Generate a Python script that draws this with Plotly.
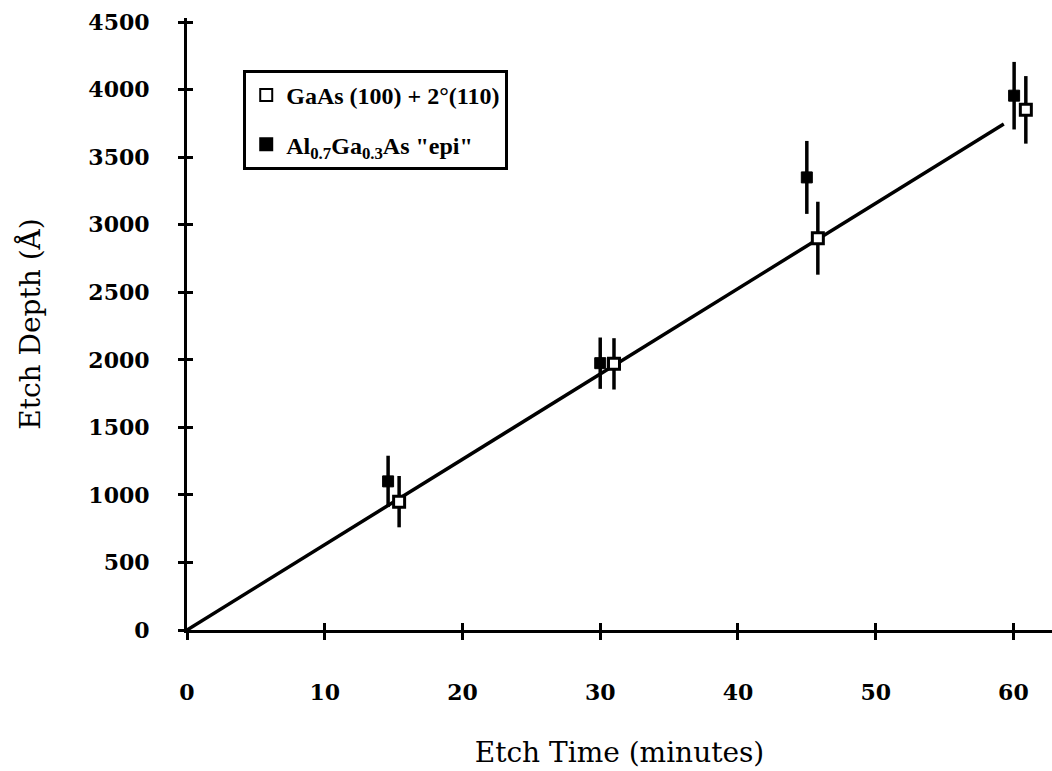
import plotly.graph_objects as go

# Data
gaas_time = [15.4, 31.0, 45.8, 60.9]
gaas_depth = [950, 1970, 2900, 3850]
gaas_err = [190, 190, 270, 250]

algaas_time = [14.6, 30.0, 45.0, 60.05]
algaas_depth = [1100, 1975, 3350, 3955]
algaas_err = [190, 190, 270, 250]

fit_time = [0, 59.3]
fit_depth = [0, 3746]

x_ticks = [0, 10, 20, 30, 40, 50, 60]
y_ticks = [0, 500, 1000, 1500, 2000, 2500, 3000, 3500, 4000, 4500]

FONT = "DejaVu Serif"
TITLE_FONT = "DejaVu Serif"
LEGEND_FONT = "Liberation Serif"

fig = go.Figure()

fig.add_trace(go.Scatter(
    x=fit_time, y=fit_depth, mode="lines",
    line=dict(color="black", width=3.5), showlegend=False, hoverinfo="skip"))

fig.add_trace(go.Scatter(
    x=gaas_time, y=gaas_depth, mode="markers",
    name="GaAs (100) + 2°(110)", legendgroup="a",
    marker=dict(symbol="square", size=11, color="white",
                line=dict(color="black", width=3)),
    error_y=dict(type="data", array=gaas_err, visible=True,
                 color="black", thickness=3.5, width=0)))

fig.add_trace(go.Scatter(
    x=algaas_time, y=algaas_depth, mode="markers",
    name='Al<sub>0.7</sub>Ga<sub>0.3</sub>As "epi"', legendgroup="b",
    marker=dict(symbol="square", size=11, color="black",
                line=dict(color="black", width=1)),
    error_y=dict(type="data", array=algaas_err, visible=True,
                 color="black", thickness=3.5, width=0)))

# invisible trace to activate the overlay axes (inside ticks)
fig.add_trace(go.Scatter(x=[0], y=[0], xaxis="x2", yaxis="y2", mode="markers",
                         marker=dict(opacity=0), showlegend=False, hoverinfo="skip"))

x_range = [0, 62.8]
y_range = [0, 4530]

fig.update_layout(
    width=1052, height=771,
    margin=dict(l=187, r=0, t=18, b=141),
    paper_bgcolor="white", plot_bgcolor="white",
    font=dict(family=FONT, color="black", size=20),
    showlegend=True,
    legend=dict(x=0.065, y=0.915, xanchor="left", yanchor="top",
                bgcolor="white", bordercolor="black", borderwidth=3,
                font=dict(family=LEGEND_FONT, size=24, color="black", weight="bold"),
                itemsizing="constant", itemwidth=30, tracegroupgap=15),
    xaxis=dict(range=x_range, tickvals=x_ticks, showgrid=False, zeroline=False,
               showline=True, linecolor="black", linewidth=3,
               ticks="outside", ticklen=7, tickwidth=3, tickcolor="black",
               ticklabelstandoff=34,
               tickfont=dict(family=FONT, size=22, weight="bold"),
               title=dict(text="Etch Time (minutes)", standoff=38,
                          font=dict(family=TITLE_FONT, size=28))),
    yaxis=dict(range=y_range, tickvals=y_ticks, showgrid=False, zeroline=False,
               showline=True, linecolor="black", linewidth=3,
               ticks="outside", ticklen=6, tickwidth=3, tickcolor="black",
               ticklabelstandoff=24,
               tickfont=dict(family=FONT, size=22, weight="bold"),
               title=dict(text="Etch Depth (Å)", standoff=40,
                          font=dict(family=TITLE_FONT, size=28))),
    xaxis2=dict(range=x_range, tickvals=x_ticks, overlaying="x", side="bottom",
                showticklabels=False, showgrid=False, zeroline=False,
                showline=False, ticks="inside", ticklen=7, tickwidth=3,
                tickcolor="black", anchor="y2"),
    yaxis2=dict(range=y_range, tickvals=y_ticks, overlaying="y", side="left",
                showticklabels=False, showgrid=False, zeroline=False,
                showline=False, ticks="inside", ticklen=6, tickwidth=3,
                tickcolor="black", anchor="x2"),
)

fig.write_html("out.html")
